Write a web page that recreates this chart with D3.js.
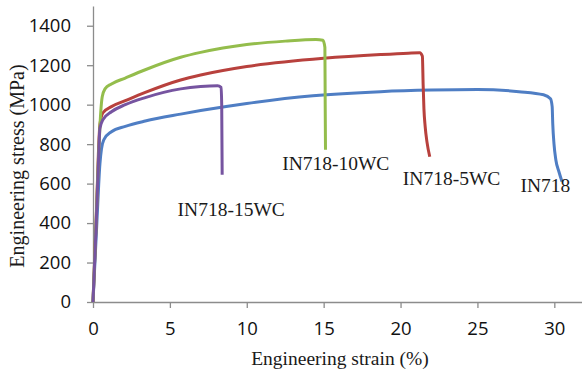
<!DOCTYPE html>
<html>
<head>
<meta charset="utf-8">
<script src="https://cdn.jsdelivr.net/npm/d3@7"></script>
<style>
  body { margin: 0; background: #fff; }
  svg { display: block; }
</style>
</head>
<body>
<svg id="chart" width="582" height="373"></svg>
<script>
// strain (%) / stress (MPa)
const in718 = [[0,0],[0.25,400],[0.45,700],[0.55,775],[0.7,822],[1.2,863],[2.1,890],[3.4,917],[5.7,952],[7,970],[10,1006],[14.3,1045],[18.7,1066],[22,1074],[25,1077],[27.7,1066],[29.3,1050],[29.75,1030],[29.86,990],[29.9,900],[29.98,800],[30.1,720],[30.3,660],[30.5,610]];
const in718_5wc = [[0,0],[0.2,400],[0.35,750],[0.45,900],[0.65,959],[1.2,990],[2.1,1020],[3.4,1062],[5.7,1125],[7,1150],[10,1193],[15,1235],[18.7,1254],[20.5,1261],[21.25,1263],[21.42,1245],[21.47,1100],[21.52,980],[21.6,890],[21.72,810],[21.9,736]];
const in718_10wc = [[0,0],[0.2,400],[0.35,720],[0.45,890],[0.52,980],[0.6,1040],[0.78,1080],[1.2,1105],[2.1,1135],[3.4,1177],[5.7,1240],[7,1265],[10,1305],[12.5,1322],[14.5,1330],[14.95,1326],[15.08,1290],[15.1,1000],[15.12,772]];
const in718_15wc = [[0,0],[0.2,380],[0.35,700],[0.45,880],[0.65,924],[1.2,964],[2.1,1000],[3.4,1036],[5.7,1080],[7,1092],[8.1,1096],[8.33,1088],[8.37,1000],[8.4,645]];

const seriesNames = ["IN718", "IN718-5WC", "IN718-10WC", "IN718-15WC"];
const seriesData = [in718, in718_5wc, in718_10wc, in718_15wc];
const seriesColors = ["#4f7ec4", "#b8413d", "#94bd4c", "#7654a0"];
// where each name is written (strain, stress)
const labelPos = [[27.8, 558], [20.15, 594], [12.3, 670], [5.5, 437]];

const xTicks = [0, 5, 10, 15, 20, 25, 30];
const yTicks = [0, 200, 400, 600, 800, 1000, 1200, 1400];

const svg = d3.select("#chart");
const x = d3.scaleLinear().domain([0, 31.8]).range([93, 582]);
const y = d3.scaleLinear().domain([0, 1500]).range([302, 6]);

const axisColor = "#8c8c8c";

// Y axis
const yAxis = svg.append("g")
  .attr("transform", "translate(93,0)")
  .call(d3.axisLeft(y).tickValues(yTicks).tickFormat(d3.format("d"))
    .tickSize(6).tickPadding(16).tickSizeOuter(0));
yAxis.select(".domain").attr("stroke", axisColor).attr("stroke-width", 1.3);
yAxis.selectAll(".tick line").attr("stroke", axisColor).attr("stroke-width", 1.3);
yAxis.selectAll(".tick text")
  .attr("font-family", "'Open Sans', sans-serif")
  .attr("font-size", 18.5)
  .attr("fill", "#111");

// X axis
const xAxis = svg.append("g")
  .attr("transform", "translate(0,302)")
  .call(d3.axisBottom(x).tickValues(xTicks).tickFormat(d3.format("d"))
    .tickSize(6).tickPadding(14).tickSizeOuter(0));
xAxis.select(".domain").attr("stroke", axisColor).attr("stroke-width", 1.3);
xAxis.selectAll(".tick line").attr("stroke", axisColor).attr("stroke-width", 1.3);
xAxis.selectAll(".tick text")
  .attr("font-family", "'Open Sans', sans-serif")
  .attr("font-size", 18.5)
  .attr("fill", "#111");

// Curves
const line = d3.line()
  .x(d => x(d[0]))
  .y(d => y(d[1]))
  .curve(d3.curveMonotoneX);

seriesData.forEach((data, i) => {
  svg.append("path")
    .datum(data)
    .attr("fill", "none")
    .attr("stroke", seriesColors[i])
    .attr("stroke-width", 3)
    .attr("stroke-linejoin", "round")
    .attr("d", line);
});

// Curve names
seriesNames.forEach((name, i) => {
  svg.append("text")
    .attr("x", x(labelPos[i][0]))
    .attr("y", y(labelPos[i][1]))
    .attr("font-family", "'Liberation Serif', 'Times New Roman', serif")
    .attr("font-size", 19.5)
    .attr("fill", "#1a1a1a")
    .text(name);
});

// Axis titles
svg.append("text")
  .attr("x", 340)
  .attr("y", 365)
  .attr("text-anchor", "middle")
  .attr("font-family", "'Liberation Serif', 'Times New Roman', serif")
  .attr("font-size", 19.5)
  .attr("fill", "#1a1a1a")
  .text("Engineering strain (%)");

svg.append("text")
  .attr("transform", "translate(24,166) rotate(-90)")
  .attr("text-anchor", "middle")
  .attr("font-family", "'Liberation Serif', 'Times New Roman', serif")
  .attr("font-size", 20)
  .attr("fill", "#1a1a1a")
  .text("Engineering stress (MPa)");
</script>
</body>
</html>
